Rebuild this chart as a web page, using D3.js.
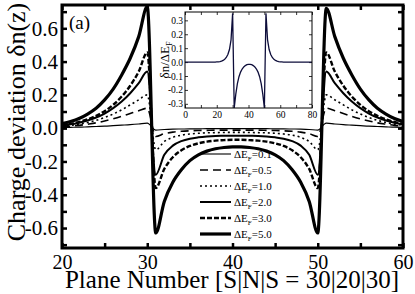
<!DOCTYPE html>
<meta charset="utf-8">
<style>
  body { margin: 0; background: #fff; }
  text { font-family: "Liberation Serif", "Times New Roman", serif; fill: #000; }
</style>
<body>
<script src="https://cdnjs.cloudflare.com/ajax/libs/d3/7.8.5/d3.min.js"></script>
<script>

// plane index of the main panel
var planes = [20, 21, 22, 23, 24, 25, 26, 27, 28, 29, 30,
              31, 32, 33, 34, 35, 36, 37, 38, 39, 40, 41, 42, 43, 44, 45, 46, 47, 48, 49, 50,
              51, 52, 53, 54, 55, 56, 57, 58, 59, 60];

var legendLabels = ["0.1", "0.5", "1.0", "2.0", "3.0", "5.0"];

var dE01 = [0.004, 0.005, 0.006, 0.008, 0.01, 0.012, 0.015, 0.018, 0.021, 0.025, 0.03,
            -0.012, -0.008, -0.006, -0.005, -0.004, -0.004, -0.003, -0.003, -0.003, -0.003, -0.003, -0.003, -0.003, -0.003, -0.004, -0.004, -0.005, -0.006, -0.008, -0.012,
            0.03, 0.025, 0.021, 0.018, 0.015, 0.012, 0.01, 0.008, 0.006, 0.005];
var dE05 = [0.009, 0.012, 0.017, 0.024, 0.032, 0.043, 0.056, 0.071, 0.088, 0.105, 0.12,
            -0.05, -0.033, -0.024, -0.019, -0.016, -0.014, -0.013, -0.012, -0.012, -0.012, -0.012, -0.012, -0.012, -0.013, -0.014, -0.016, -0.019, -0.024, -0.033, -0.05,
            0.12, 0.105, 0.088, 0.071, 0.056, 0.043, 0.032, 0.024, 0.017, 0.012];
var dE1 = [0.012, 0.017, 0.024, 0.034, 0.047, 0.064, 0.085, 0.11, 0.14, 0.17, 0.2,
           -0.13, -0.08, -0.055, -0.042, -0.035, -0.031, -0.028, -0.027, -0.026, -0.025, -0.025, -0.026, -0.027, -0.028, -0.031, -0.035, -0.042, -0.055, -0.08, -0.13,
           0.2, 0.17, 0.14, 0.11, 0.085, 0.064, 0.047, 0.034, 0.024, 0.017];
var dE2 = [0.016, 0.023, 0.033, 0.046, 0.064, 0.088, 0.12, 0.16, 0.21, 0.27, 0.34,
           -0.28, -0.16, -0.105, -0.078, -0.063, -0.055, -0.05, -0.047, -0.046, -0.045, -0.045, -0.046, -0.047, -0.05, -0.055, -0.063, -0.078, -0.105, -0.16, -0.28,
           0.34, 0.27, 0.21, 0.16, 0.12, 0.088, 0.064, 0.046, 0.033, 0.023];
var dE3 = [0.018, 0.026, 0.037, 0.053, 0.074, 0.102, 0.14, 0.19, 0.255, 0.34, 0.455,
           -0.36, -0.245, -0.175, -0.133, -0.107, -0.091, -0.081, -0.075, -0.072, -0.07, -0.07, -0.072, -0.075, -0.081, -0.091, -0.107, -0.133, -0.175, -0.245, -0.36,
           0.455, 0.34, 0.255, 0.19, 0.14, 0.102, 0.074, 0.053, 0.037, 0.026];
var dE5 = [0.027, 0.04, 0.058, 0.085, 0.12, 0.17, 0.235, 0.32, 0.42, 0.55, 0.73,
           -0.63, -0.44, -0.325, -0.25, -0.195, -0.16, -0.138, -0.124, -0.116, -0.112, -0.112, -0.116, -0.124, -0.138, -0.16, -0.195, -0.25, -0.325, -0.44, -0.63,
           0.72, 0.55, 0.42, 0.32, 0.235, 0.17, 0.12, 0.085, 0.058, 0.04];

// inset: dn/dE_F over the whole 80-plane junction
var insetPlanes = [0, 1, 2, 3, 4, 5, 6, 7, 8, 9, 10, 11, 12, 13, 14, 15, 16, 17, 18, 19,
                   20, 21, 22, 23, 24, 25, 26, 27, 28, 29, 30,
                   31, 32, 33, 34, 35, 36, 37, 38, 39, 40, 41, 42, 43, 44, 45, 46, 47, 48, 49, 50,
                   51, 52, 53, 54, 55, 56, 57, 58, 59, 60, 61, 62, 63, 64, 65, 66, 67, 68, 69, 70,
                   71, 72, 73, 74, 75, 76, 77, 78, 79, 80];
var insetValues = [0, 0, 0, 0, 0, 0, 0, 0, 0, 0, 0, 0, 0, 0, 0, 0, 0, 0, 0, 0,
                   0.001, 0.002, 0.004, 0.007, 0.012, 0.02, 0.033, 0.055, 0.09, 0.16, 0.35,
                   -0.33, -0.23, -0.155, -0.105, -0.072, -0.05, -0.035, -0.025, -0.019, -0.016, -0.016, -0.019, -0.025, -0.035, -0.05, -0.072, -0.105, -0.155, -0.23, -0.33,
                   0.35, 0.16, 0.09, 0.055, 0.033, 0.02, 0.012, 0.007, 0.004, 0.002, 0.001, 0, 0, 0, 0, 0, 0, 0, 0, 0,
                   0, 0, 0, 0, 0, 0, 0, 0, 0, 0];

var xTicks = [20, 25, 30, 35, 40, 45, 50, 55, 60];
var yTicks = [-0.7, -0.6, -0.5, -0.4, -0.3, -0.2, -0.1, 0, 0.1, 0.2, 0.3, 0.4, 0.5, 0.6, 0.7];
var insetXTicks = [0, 10, 20, 30, 40, 50, 60, 70, 80];
var insetYTicks = [-0.3, -0.2, -0.1, 0, 0.1, 0.2, 0.3];

var series = [dE01, dE05, dE1, dE2, dE3, dE5];
var styles = [
    { w: 1.1, dash: null },
    { w: 1.6, dash: "8,5" },
    { w: 1.6, dash: "2,3" },
    { w: 2.0, dash: null },
    { w: 2.4, dash: "5,2" },
    { w: 3.2, dash: null }
];

var serif = "'Liberation Serif', 'Times New Roman', serif";

var svg = d3.select("body").append("svg")
    .attr("width", 415)
    .attr("height", 294);

var x = d3.scaleLinear().domain([20, 60]).range([62, 403]);
var y = d3.scaleLinear().domain([-0.72, 0.74]).range([248, 5]);

var fmt = function (d) { return d3.format(".1f")(d).replace("\u2212", "-"); };

// axes, ticks inward on all four sides
var gx = svg.append("g").attr("transform", "translate(0,248)")
    .call(d3.axisBottom(x).tickValues(xTicks).tickSize(-5).tickPadding(7)
        .tickFormat(function (d) { return d % 10 === 0 ? d : ""; }));
var gxt = svg.append("g").attr("transform", "translate(0,5)")
    .call(d3.axisTop(x).tickValues(xTicks).tickSize(-5).tickFormat(""));
var gy = svg.append("g").attr("transform", "translate(62,0)")
    .call(d3.axisLeft(y).tickValues(yTicks).tickSize(-5).tickPadding(4)
        .tickFormat(function (d) { return Math.round(d * 10) % 2 === 0 ? fmt(d) : ""; }));
var gyr = svg.append("g").attr("transform", "translate(403,0)")
    .call(d3.axisRight(y).tickValues(yTicks).tickSize(-5).tickFormat(""));

[gx, gxt, gy, gyr].forEach(function (g) {
    g.attr("font-family", serif);
    g.select(".domain").remove();
    g.selectAll(".tick line").attr("stroke", "#000").attr("stroke-width", 2.5);
    g.selectAll("text").style("font-size", "21px");
});
gx.selectAll("text").style("font-size", "20px");

var line = d3.line()
    .x(function (d, i) { return x(planes[i]); })
    .y(function (d) { return y(d); })
    .curve(d3.curveMonotoneX);

svg.append("g").selectAll("path")
    .data(series)
  .enter().append("path")
    .attr("d", line)
    .attr("fill", "none")
    .attr("stroke", "#000")
    .attr("stroke-linejoin", "round")
    .attr("stroke-width", function (d, i) { return styles[i].w; })
    .attr("stroke-dasharray", function (d, i) { return styles[i].dash; });

svg.append("rect")
    .attr("x", 62).attr("y", 5).attr("width", 341).attr("height", 243)
    .attr("fill", "none").attr("stroke", "#000").attr("stroke-width", 3);

// axis titles
svg.append("text")
    .attr("transform", "translate(25,122) rotate(-90)")
    .attr("text-anchor", "middle")
    .style("font-size", "26px")
    .text("Charge deviation  \u03b4n(z)");

svg.append("text")
    .attr("x", 232).attr("y", 288)
    .attr("text-anchor", "middle")
    .style("font-size", "25px")
    .text("Plane Number [S|N|S = 30|20|30]");

svg.append("text")
    .attr("x", 69).attr("y", 29)
    .style("font-size", "19px")
    .text("(a)");

// legend
var legend = svg.append("g").selectAll("g")
    .data(legendLabels)
  .enter().append("g")
    .attr("transform", function (d, i) { return "translate(200," + (154 + i * 16) + ")"; });

legend.append("line")
    .attr("x1", 0).attr("x2", 31)
    .attr("stroke", "#000")
    .attr("stroke-width", function (d, i) { return styles[i].w; })
    .attr("stroke-dasharray", function (d, i) { return styles[i].dash; });

var lt = legend.append("text")
    .attr("x", 34).attr("y", 4)
    .style("font-size", "11px");
lt.append("tspan").text("\u0394E");
lt.append("tspan").attr("dy", 3).style("font-size", "7px").text("F");
lt.append("tspan").attr("dy", -3).text(function (d) { return "=" + d; });

// inset
var ix = d3.scaleLinear().domain([0, 80]).range([185, 312]);
var iy = d3.scaleLinear().domain([-0.33, 0.36]).range([108, 12]);

svg.append("rect")
    .attr("x", 185).attr("y", 12).attr("width", 127).attr("height", 96)
    .attr("fill", "#fff");

var ig = svg.append("g");
var igx = ig.append("g").attr("transform", "translate(0,108)")
    .call(d3.axisBottom(ix).tickValues(insetXTicks).tickSize(-3).tickPadding(3)
        .tickFormat(function (d) { return d % 20 === 0 ? d : ""; }));
var igxt = ig.append("g").attr("transform", "translate(0,12)")
    .call(d3.axisTop(ix).tickValues(insetXTicks).tickSize(-3).tickFormat(""));
var igy = ig.append("g").attr("transform", "translate(185,0)")
    .call(d3.axisLeft(iy).tickValues(insetYTicks).tickSize(-3).tickPadding(2).tickFormat(fmt));
var igyr = ig.append("g").attr("transform", "translate(312,0)")
    .call(d3.axisRight(iy).tickValues(insetYTicks).tickSize(-3).tickFormat(""));

[igx, igxt, igy, igyr].forEach(function (g) {
    g.attr("font-family", serif);
    g.select(".domain").remove();
    g.selectAll(".tick line").attr("stroke", "#000").attr("stroke-width", 0.8);
    g.selectAll("text").style("font-size", "9.5px");
});

var iline = d3.line()
    .x(function (d, i) { return ix(insetPlanes[i]); })
    .y(function (d) { return iy(d); });

ig.append("path")
    .attr("d", iline(insetValues))
    .attr("fill", "none")
    .attr("stroke", "#0d0d3a")
    .attr("stroke-width", 1.3);

ig.append("rect")
    .attr("x", 185).attr("y", 12).attr("width", 127).attr("height", 96)
    .attr("fill", "none").attr("stroke", "#000").attr("stroke-width", 1);

var il = ig.append("text")
    .attr("transform", "translate(169,60) rotate(-90)")
    .attr("text-anchor", "middle")
    .style("font-size", "13px");
il.append("tspan").text("\u03b4n/\u0394E");
il.append("tspan").attr("dy", 3).style("font-size", "8px").text("F");

</script>
</body>
